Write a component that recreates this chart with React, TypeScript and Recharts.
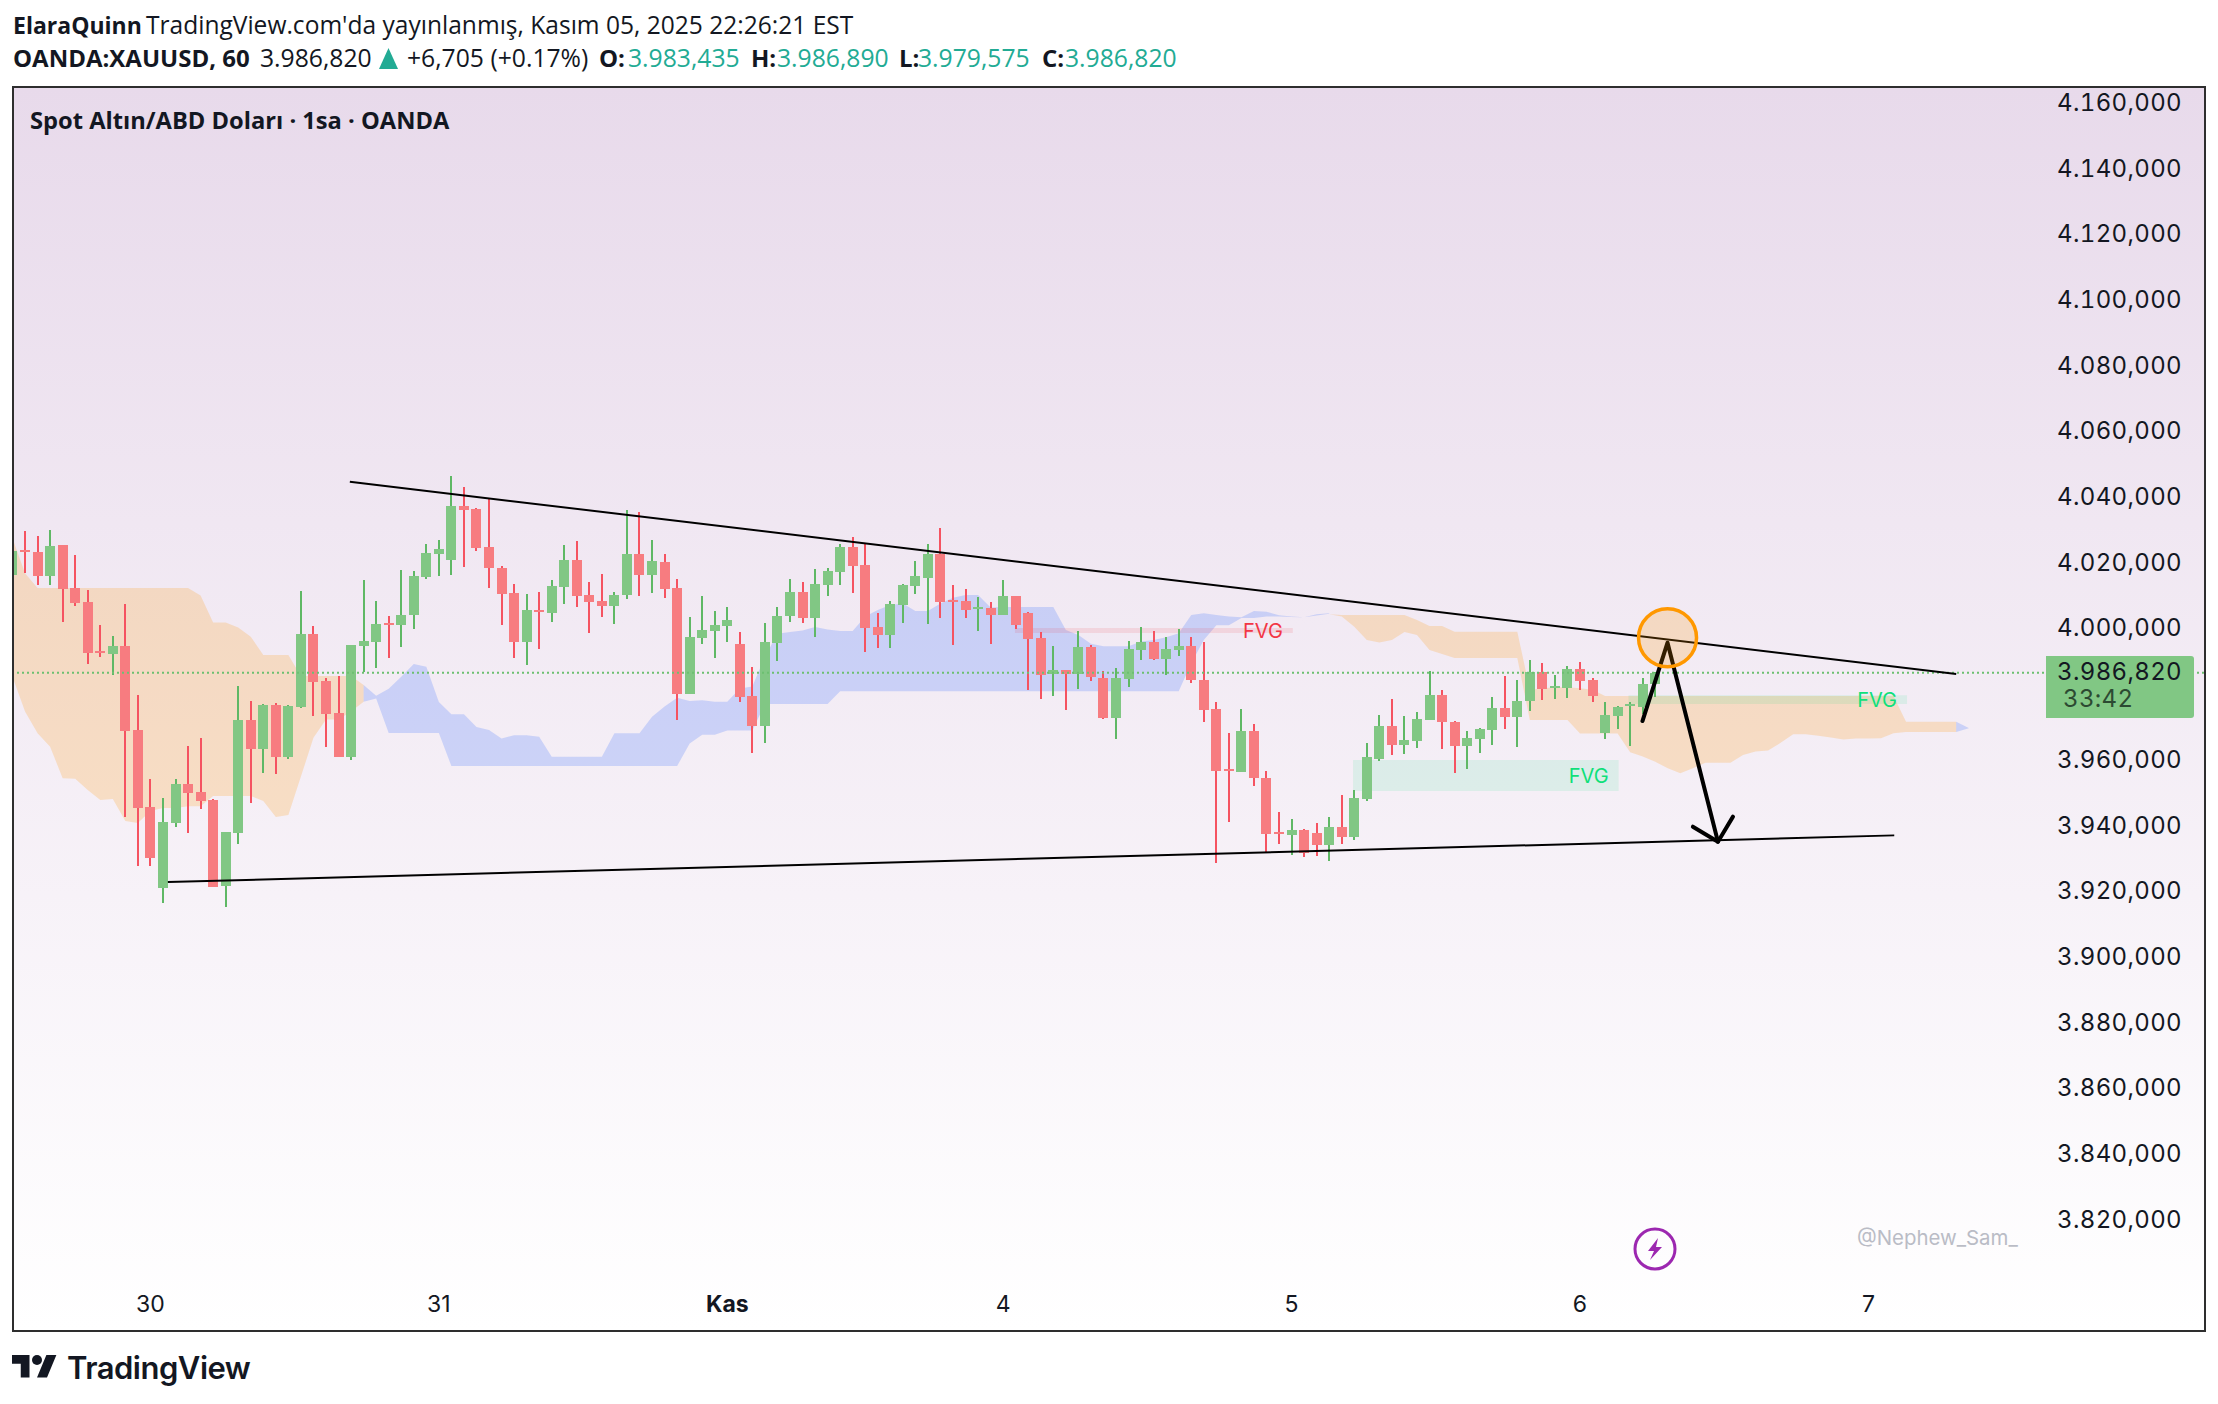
import {
  Area,
  Bar,
  ComposedChart,
  Line,
  ReferenceArea,
  ReferenceDot,
  ReferenceLine,
  XAxis,
  YAxis,
} from "recharts"

// hourly candles, left to right
const opens = [
  4016.5, 4024.2, 4023.6, 4016.3, 4025.7, 4012.6, 4008.3, 3993.4, 3992.5, 3994.9,
  3969.4, 3945.9, 3921.3, 3941.1, 3952.9, 3950.5, 3948.1, 3921.9, 3938.0, 3972.4,
  3963.6, 3977.0, 3961.1, 3976.4, 3998.6, 3984.3, 3974.5, 3961.1, 3994.9, 3996.2,
  4001.9, 4001.3, 4004.4, 4015.9, 4023.0, 4021.1, 4037.6, 4036.6, 4025.1, 4018.7,
  4011.1, 3996.2, 4005.9, 4005.0, 4012.9, 4021.1, 4010.5, 4008.6, 4007.1, 4010.5,
  4023.0, 4016.6, 4020.5, 4012.6, 3980.3, 3997.4, 3999.5, 4001.0, 3995.6, 3979.7,
  3970.6, 3995.9, 4004.1, 4011.4, 4003.5, 4013.5, 4017.5, 4025.1, 4019.6, 4000.7,
  3998.3, 4007.4, 4013.2, 4015.6, 4023.0, 4009.0, 4008.6, 4006.2, 4006.5, 4004.4,
  4010.2, 4005.0, 3997.4, 3986.4, 3987.6, 3986.4, 3994.6, 3985.2, 3973.0, 3984.9,
  3993.7, 3996.2, 3991.0, 3993.7, 3994.9, 3984.6, 3975.8, 3957.5, 3956.6, 3969.1,
  3954.8, 3938.3, 3937.4, 3938.9, 3938.0, 3934.4, 3939.8, 3936.8, 3948.4, 3960.6,
  3970.6, 3964.8, 3966.0, 3972.4, 3980.0, 3971.8, 3964.5, 3966.6, 3969.4, 3976.1,
  3973.3, 3978.2, 3987.0, 3982.2, 3982.2, 3987.9, 3984.6, 3968.5, 3973.6, 3976.6,
  3976.4, 3983.435,
]
const closes = [
  4023.9, 4023.7, 4016.3, 4025.4, 4012.3, 4008.0, 3992.8, 3992.8, 3994.9, 3969.1,
  3945.6, 3930.4, 3941.4, 3952.9, 3950.2, 3947.8, 3921.6, 3938.3, 3972.4, 3963.6,
  3977.0, 3961.1, 3976.7, 3998.6, 3984.0, 3974.2, 3961.1, 3995.2, 3996.5, 4001.6,
  4001.3, 4004.4, 4016.3, 4023.3, 4024.5, 4037.6, 4036.3, 4024.8, 4018.7, 4010.8,
  3996.2, 4005.9, 4005.3, 4013.2, 4021.1, 4010.2, 4008.4, 4007.1, 4010.5, 4023.0,
  4016.6, 4020.8, 4012.3, 3980.3, 3997.7, 3999.8, 4001.3, 4002.9, 3979.4, 3970.6,
  3996.2, 4004.1, 4011.4, 4003.5, 4013.8, 4017.8, 4025.1, 4019.3, 4000.4, 3998.3,
  4007.7, 4013.5, 4016.3, 4023.0, 4008.4, 4008.4, 4005.9, 4006.8, 4004.4, 4010.2,
  4001.3, 3997.1, 3986.1, 3987.6, 3986.4, 3994.6, 3985.5, 3973.0, 3985.2, 3994.0,
  3996.2, 3991.0, 3994.0, 3994.9, 3984.6, 3975.5, 3956.9, 3956.9, 3969.1, 3954.8,
  3937.7, 3937.7, 3938.9, 3931.9, 3934.4, 3939.8, 3936.8, 3948.7, 3961.2, 3970.6,
  3964.8, 3966.3, 3972.7, 3980.0, 3971.8, 3964.5, 3966.9, 3969.7, 3976.1, 3973.3,
  3978.2, 3987.0, 3981.9, 3982.8, 3987.9, 3984.3, 3979.7, 3973.9, 3976.4, 3977.2,
  3983.4, 3986.82,
]
const highs = [
  4025.2, 4030.0, 4028.4, 4030.3, 4025.7, 4022.6, 4012.0, 4001.3, 3998.0, 4007.7,
  3980.0, 3954.4, 3948.7, 3954.4, 3964.5, 3966.9, 3948.4, 3938.3, 3982.8, 3978.2,
  3977.3, 3977.6, 3977.0, 4011.7, 4001.0, 3985.2, 3985.8, 3995.2, 4015.0, 4008.6,
  4004.1, 4018.1, 4017.8, 4026.0, 4027.2, 4046.7, 4043.3, 4036.9, 4039.7, 4019.3,
  4013.8, 4010.8, 4011.4, 4015.0, 4025.7, 4026.9, 4014.4, 4016.9, 4011.4, 4036.4,
  4035.7, 4027.2, 4023.0, 4015.4, 4003.8, 4010.2, 4005.6, 4006.8, 3999.2, 3988.6,
  4001.9, 4006.8, 4015.4, 4014.4, 4018.4, 4018.7, 4026.0, 4028.1, 4026.0, 4005.0,
  4008.6, 4013.8, 4020.8, 4026.0, 4030.9, 4013.5, 4012.3, 4009.9, 4008.3, 4015.0,
  4010.2, 4005.3, 3999.2, 3994.9, 3987.6, 3999.5, 3995.2, 3987.3, 3988.2, 3996.5,
  4000.7, 3999.5, 3997.7, 4000.1, 3997.7, 3996.2, 3977.9, 3968.5, 3975.8, 3971.2,
  3956.9, 3944.4, 3942.3, 3939.2, 3941.1, 3942.9, 3949.6, 3951.1, 3965.4, 3973.9,
  3978.8, 3973.6, 3974.9, 3987.3, 3981.6, 3972.1, 3969.1, 3970.0, 3979.4, 3985.8,
  3984.6, 3990.7, 3989.8, 3986.1, 3988.9, 3990.1, 3985.2, 3977.9, 3976.6, 3977.9,
  3985.2, 3986.89,
]
const lows = [
  4016.0, 4017.2, 4013.5, 4013.5, 4002.2, 4007.1, 3989.5, 3991.6, 3986.1, 3942.9,
  3928.0, 3928.0, 3916.7, 3939.8, 3938.0, 3945.3, 3921.6, 3915.5, 3934.7, 3947.2,
  3956.3, 3956.0, 3960.5, 3976.1, 3973.6, 3964.2, 3961.1, 3960.2, 3987.0, 3988.2,
  3991.3, 3994.6, 4000.1, 4015.3, 4016.3, 4016.5, 4019.0, 4023.9, 4012.6, 4001.3,
  3991.3, 3989.2, 3994.0, 4002.2, 4007.7, 4006.8, 3998.9, 4003.8, 4001.6, 4009.3,
  4010.2, 4011.1, 4009.6, 3972.4, 3980.3, 3995.6, 3991.3, 3996.2, 3977.9, 3962.4,
  3965.4, 3990.4, 4002.3, 4001.9, 3997.7, 4010.2, 4013.5, 4011.1, 3993.1, 3994.3,
  3994.3, 4001.9, 4010.8, 4001.6, 4003.5, 3995.3, 4003.5, 3999.5, 3995.6, 4004.4,
  4000.1, 3981.6, 3978.8, 3979.7, 3975.5, 3981.9, 3984.3, 3972.7, 3966.6, 3982.5,
  3990.7, 3990.7, 3986.1, 3991.9, 3983.7, 3971.8, 3928.9, 3941.4, 3956.6, 3952.3,
  3932.2, 3934.7, 3931.3, 3930.7, 3931.0, 3929.5, 3934.7, 3935.9, 3947.8, 3960.0,
  3961.8, 3962.1, 3963.9, 3972.4, 3963.6, 3956.3, 3957.5, 3962.4, 3964.8, 3969.7,
  3964.2, 3975.2, 3978.5, 3978.8, 3979.1, 3981.6, 3977.9, 3966.6, 3969.7, 3964.5,
  3974.3, 3979.575,
]

// ichimoku cloud, first orange stretch starts at bar 0
const orangeATop = [
  4027.7, 4017.1, 4012.6, 4012.6, 4012.6, 4012.6, 4012.6, 4012.6, 4012.6, 4012.6,
  4012.6, 4012.6, 4012.6, 4012.6, 4012.6, 4010.3, 4002.1, 4002.1, 4000.6, 3997.8,
  3992.2, 3992.2, 3992.2, 3985.8, 3985.8, 3985.8, 3985.8, 3985.8, 3983.1,
]
const orangeABottom = [
  3985.6, 3975.0, 3968.4, 3964.3, 3954.7, 3954.5, 3951.1, 3948.1, 3948.4, 3941.7,
  3941.1, 3944.7, 3945.6, 3945.6, 3946.2, 3946.2, 3949.3, 3949.3, 3949.3, 3949.3,
  3947.8, 3942.9, 3943.5, 3955.2, 3967.0, 3972.6, 3972.6, 3975.0, 3978.0,
]
// blue stretch starts at bar 28
const blueTop = [
  3983.1, 3979.8, 3981.9, 3985.6, 3989.5, 3988.6, 3977.9, 3974.2, 3974.2, 3970.3,
  3969.4, 3966.8, 3967.8, 3967.8, 3967.3, 3961.2, 3961.2, 3961.2, 3961.2, 3961.2,
  3968.4, 3968.4, 3968.4, 3973.4, 3976.5, 3979.2, 3978.2, 3978.4, 3978.0, 3978.0,
  3982.0, 3982.6, 3991.7, 3998.7, 3999.2, 3999.7, 4000.7, 4000.0, 3999.5, 3999.5,
  4003.9, 4005.9, 4007.4, 4007.9, 4005.6, 4005.6, 4007.9, 4009.6, 4010.5, 4010.5,
  4006.7, 4006.8, 4006.8, 4006.8, 4006.8, 4006.8, 3999.8, 3998.3, 3995.6, 3994.9,
  3994.9, 3994.9, 3996.3, 3996.8, 3997.6, 3998.8, 4004.4, 4004.9, 4004.4, 4003.9,
  4003.7, 4005.6, 4005.4, 4004.3, 4003.9, 4003.7, 4004.6, 4004.9,
]
const blueBottom = [
  3978.0, 3979.0, 3968.5, 3968.5, 3968.5, 3968.5, 3968.5, 3958.4, 3958.4, 3958.4,
  3958.4, 3958.4, 3958.4, 3958.4, 3958.4, 3958.4, 3958.4, 3958.4, 3958.4, 3958.4,
  3958.4, 3958.4, 3958.4, 3958.4, 3958.4, 3958.4, 3965.3, 3967.9, 3967.9, 3969.2,
  3969.2, 3969.2, 3977.3, 3977.3, 3977.3, 3977.3, 3977.3, 3977.3, 3981.2, 3981.2,
  3981.2, 3981.2, 3981.2, 3981.2, 3981.2, 3981.2, 3981.2, 3981.2, 3981.2, 3981.2,
  3981.2, 3981.2, 3981.2, 3981.2, 3981.2, 3981.2, 3981.2, 3981.2, 3981.2, 3981.2,
  3981.2, 3981.2, 3981.2, 3981.2, 3981.2, 3981.2, 3989.7, 3996.8, 4001.3, 4001.3,
  4003.5, 4003.5, 4003.9, 4003.9, 4003.8, 4003.7, 4004.2, 4004.8,
]
// second orange stretch starts at bar 105
const orangeBTop = [
  4004.6, 4004.4, 4004.4, 4004.4, 4004.4, 4004.4, 4004.4, 4002.9, 4001.0, 4001.0,
  3999.3, 3999.3, 3999.3, 3999.3, 3999.3, 3999.3, 3981.6, 3982.1, 3982.4, 3982.4,
  3982.1, 3981.6, 3979.7, 3979.7, 3979.7, 3979.7, 3979.7, 3979.7, 3979.7, 3979.7,
  3979.7, 3979.7, 3979.7, 3979.7, 3979.7, 3979.7, 3979.7, 3979.7, 3979.7, 3979.7,
  3979.7, 3979.7, 3979.7, 3979.7, 3979.7, 3979.7, 3971.9, 3971.9, 3971.9, 3971.9,
  3971.9,
]
const orangeBBottom = [
  4004.6, 4003.9, 4000.8, 3996.8, 3996.0, 3996.8, 3999.2, 3998.3, 3993.7, 3992.5,
  3991.3, 3991.3, 3991.3, 3991.3, 3991.3, 3991.3, 3972.4, 3972.4, 3972.4, 3972.4,
  3968.3, 3968.3, 3968.3, 3968.3, 3962.6, 3961.3, 3959.7, 3957.7, 3956.2, 3957.7,
  3959.4, 3959.4, 3959.4, 3961.8, 3962.8, 3963.1, 3965.5, 3968.1, 3968.1, 3967.6,
  3967.1, 3966.5, 3966.8, 3966.8, 3966.9, 3968.4, 3968.8, 3968.8, 3968.8, 3968.8,
  3968.8,
]
const blueTailTop = [3971.9, 3970.0]
const blueTailBottom = [3968.8, 3969.9]

// 3.980 has no label in the reference, the price tag covers its slot
const priceTicks = [
  3820, 3840, 3860, 3880, 3900, 3920, 3940, 3960,
  4000, 4020, 4040, 4060, 4080, 4100, 4120, 4140, 4160,
]
const timeTicks = [11, 34, 57, 79, 102, 125, 148]
const timeLabels = ["30", "31", "Kas", "4", "5", "6", "7"]

const lastPrice = 3986.82

// drawings on the chart, bar index and price
const upperTrend = [
  { i: 26.9, p: 4044.96 },
  { i: 155, p: 3986.42 },
]
const lowerTrend = [
  { i: 12.39, p: 3923.1 },
  { i: 150.06, p: 3937.3 },
]
const arrowPath = [
  { i: 129.98, p: 3972.1 },
  { i: 131.98, p: 3995.95 },
  { i: 136, p: 3935.37 },
]
const arrowHead = [
  { i: 134, p: 3939.94 },
  { i: 136, p: 3935.37 },
  { i: 137.2, p: 3943.0 },
]

const candles = opens.map((open, i) => ({
  i,
  open,
  close: closes[i],
  high: highs[i],
  low: lows[i],
}))

function cloudRows(start: number, top: number[], bottom: number[]) {
  return top.map((t, k) => ({ i: start + k, range: [bottom[k], t] }))
}

const FONT = "Inter, sans-serif"
const HEAD_FONT = "'Open Sans', sans-serif"
const UP = "#22ab94"

function Candle(props: any) {
  const { x, y, width, height, payload } = props
  const { open, close, high, low } = payload
  const k = height / (high - low)
  const up = close >= open
  const bodyTop = y + (high - Math.max(open, close)) * k
  const bodyH = Math.max(Math.abs(open - close) * k, 2)
  const cx = Math.round(x + width / 2)
  return (
    <g shapeRendering="crispEdges">
      <rect x={cx - 1} y={y} width={2} height={height} fill={up ? "#5fb865" : "#f55361"} />
      <rect
        x={cx - 5}
        y={bodyTop}
        width={10}
        height={bodyH}
        fill={up ? "#81c784" : "#f77c80"}
      />
    </g>
  )
}

function PriceTick({ y, payload }: any) {
  const v = payload.value
  const whole = Math.floor(v / 1000)
  const rest = String(Math.round(v - whole * 1000)).padStart(3, "0")
  return (
    <text
      x={2168}
      y={y - 1.5}
      textAnchor="end"
      dominantBaseline="central"
      fontFamily={FONT}
      fontSize={24}
      letterSpacing={0.35}
      style={{ fontVariantNumeric: "tabular-nums" }}
      fill="#131722"
    >
      {`${whole}.${rest},000`}
    </text>
  )
}

function TimeTick({ x, payload }: any) {
  const label = timeLabels[timeTicks.indexOf(payload.value)]
  return (
    <text
      x={x}
      y={1216}
      textAnchor="middle"
      dominantBaseline="central"
      fontFamily={FONT}
      fontSize={23}
      fontWeight={label === "Kas" ? 700 : 400}
      fill="#131722"
    >
      {label}
    </text>
  )
}

function Head({
  left,
  top,
  color = "#131722",
  bold,
  size,
  children,
}: {
  left: number
  top: number
  color?: string
  bold?: boolean
  size?: number
  children: React.ReactNode
}) {
  return (
    <span
      style={{
        position: "absolute",
        left,
        top,
        color,
        fontFamily: HEAD_FONT,
        fontWeight: bold ? 700 : 400,
        fontSize: size ?? (bold ? 24 : 24.7),
        lineHeight: "30px",
        whiteSpace: "nowrap",
      }}
    >
      {children}
    </span>
  )
}

export default function App() {
  return (
    <div
      style={{
        position: "absolute",
        left: 0,
        top: 0,
        width: 2218,
        height: 1404,
        background: "#fff",
        overflow: "hidden",
      }}
    >
      <Head left={13} top={10} bold size={23}>ElaraQuinn</Head>
      <Head left={146} top={10} size={24.55}>TradingView.com'da yayınlanmış, Kasım 05, 2025 22:26:21 EST</Head>
      <Head left={13} top={43} bold>OANDA:XAUUSD, 60</Head>
      <Head left={260} top={43}>3.986,820</Head>
      <svg style={{ position: "absolute", left: 379, top: 48 }} width={19} height={21}>
        <polygon points="9.5,0 19,21 0,21" fill={UP} />
      </svg>
      <Head left={407} top={43}>+6,705 (+0.17%)</Head>
      <Head left={599} top={43} bold>O:</Head>
      <Head left={628} top={43} color={UP}>3.983,435</Head>
      <Head left={751} top={43} bold>H:</Head>
      <Head left={777} top={43} color={UP}>3.986,890</Head>
      <Head left={899} top={43} bold>L:</Head>
      <Head left={918} top={43} color={UP}>3.979,575</Head>
      <Head left={1042} top={43} bold>C:</Head>
      <Head left={1065} top={43} color={UP}>3.986,820</Head>

      <div
        style={{
          position: "absolute",
          left: 12,
          top: 86,
          width: 2194,
          height: 1246,
          boxSizing: "border-box",
          border: "2px solid #2e2e2e",
          background: "linear-gradient(180deg, #e8daeb 0%, #ffffff 100%)",
        }}
      />
      <div style={{ position: "absolute", left: 14, top: 88 }}>
        <ComposedChart
          width={2190}
          height={1242}
          data={candles}
          margin={{ top: 0, right: 0, bottom: 0, left: 0 }}
        >
          <XAxis
            dataKey="i"
            type="number"
            domain={[0.12, 174.76]}
            allowDataOverflow
            ticks={timeTicks}
            interval={0}
            mirror
            height={1}
            tickSize={0}
            axisLine={false}
            tickLine={false}
            tick={<TimeTick />}
          />
          <YAxis
            type="number"
            orientation="right"
            domain={[3786.73, 4164.81]}
            allowDataOverflow
            ticks={priceTicks}
            interval={0}
            mirror
            width={1}
            tickSize={0}
            axisLine={false}
            tickLine={false}
            tick={<PriceTick />}
          />
          <Area
            data={cloudRows(0, orangeATop, orangeABottom)}
            dataKey="range"
            type="linear"
            stroke="none"
            fill="rgb(255,152,0)"
            fillOpacity={0.2}
            dot={false}
            activeDot={false}
            isAnimationActive={false}
          />
          <Area
            data={cloudRows(28, blueTop, blueBottom)}
            dataKey="range"
            type="linear"
            stroke="none"
            fill="rgb(41,98,255)"
            fillOpacity={0.2}
            dot={false}
            activeDot={false}
            isAnimationActive={false}
          />
          <Area
            data={cloudRows(105, orangeBTop, orangeBBottom)}
            dataKey="range"
            type="linear"
            stroke="none"
            fill="rgb(255,152,0)"
            fillOpacity={0.2}
            dot={false}
            activeDot={false}
            isAnimationActive={false}
          />
          <Area
            data={cloudRows(155, blueTailTop, blueTailBottom)}
            dataKey="range"
            type="linear"
            stroke="none"
            fill="rgb(41,98,255)"
            fillOpacity={0.2}
            dot={false}
            activeDot={false}
            isAnimationActive={false}
          />
          <ReferenceArea
            x1={79.94}
            x2={102.1}
            y1={3998.9}
            y2={4000.43}
            fill="#f23645"
            fillOpacity={0.12}
            stroke="none"
            label={{
              value: "FVG",
              position: "insideRight",
              offset: 10,
              fill: "#f23645",
              fontSize: 20,
              fontFamily: FONT,
            }}
          />
          <ReferenceArea
            x1={106.9}
            x2={128.08}
            y1={3950.81}
            y2={3960.24}
            fill="rgb(0,230,118)"
            fillOpacity={0.1}
            stroke="none"
            label={{
              value: "FVG",
              position: "insideRight",
              offset: 10,
              fill: "#0fe07a",
              fontSize: 20,
              fontFamily: FONT,
            }}
          />
          <ReferenceArea
            x1={128.87}
            x2={151.08}
            y1={3977.29}
            y2={3979.94}
            fill="rgb(0,230,118)"
            fillOpacity={0.1}
            stroke="none"
            label={{
              value: "FVG",
              position: "insideRight",
              offset: 10,
              fill: "#0fe07a",
              fontSize: 20,
              fontFamily: FONT,
            }}
          />
          <Bar
            dataKey={(d: any) => [d.low, d.high]}
            barSize={10}
            shape={<Candle />}
            isAnimationActive={false}
          />
          <ReferenceLine
            y={lastPrice}
            stroke="#6cc070"
            strokeWidth={2}
            strokeDasharray="2 3"
          />
          <Line data={upperTrend} dataKey="p" type="linear" stroke="#000" strokeWidth={2} dot={false} activeDot={false} isAnimationActive={false} />
          <Line data={lowerTrend} dataKey="p" type="linear" stroke="#000" strokeWidth={2} dot={false} activeDot={false} isAnimationActive={false} />
          <Line data={arrowPath} dataKey="p" type="linear" stroke="#000" strokeWidth={4} strokeLinecap="round" strokeLinejoin="round" dot={false} activeDot={false} isAnimationActive={false} />
          <Line data={arrowHead} dataKey="p" type="linear" stroke="#000" strokeWidth={4} strokeLinecap="round" strokeLinejoin="round" dot={false} activeDot={false} isAnimationActive={false} />
          <ReferenceDot
            x={131.98}
            y={3997.47}
            r={29}
            fill="rgb(255,152,0)"
            fillOpacity={0.2}
            stroke="#ff9800"
            strokeWidth={3.5}
          />
        </ComposedChart>
      </div>

      <div
        style={{
          position: "absolute",
          left: 30,
          top: 105,
          fontFamily: HEAD_FONT,
          fontWeight: 700,
          fontSize: 23.7,
          lineHeight: "30px",
          color: "#131722",
          whiteSpace: "nowrap",
        }}
      >
        Spot Altın/ABD Doları · 1sa · OANDA
      </div>

      {/* last price tag */}
      <div
        style={{
          position: "absolute",
          left: 2046,
          top: 656,
          width: 148,
          height: 62,
          background: "#81c784",
          borderRadius: "0 3px 3px 0",
          fontFamily: FONT,
          fontSize: 24,
          lineHeight: "26px",
          letterSpacing: 0.35,
          fontVariantNumeric: "tabular-nums",
          color: "#131722",
        }}
      >
        <div style={{ position: "absolute", right: 12, top: 3 }}>3.986,820</div>
        <div style={{ position: "absolute", left: 17, top: 30, color: "#2c4a32" }}>33:42</div>
      </div>

      <div
        style={{
          position: "absolute",
          left: 1857,
          top: 1226,
          fontFamily: FONT,
          fontSize: 20.4,
          lineHeight: "24px",
          color: "#babcc6",
        }}
      >
        @Nephew_Sam_
      </div>

      <svg style={{ position: "absolute", left: 1633, top: 1227 }} width={44} height={44} viewBox="0 0 44 44">
        <circle cx={22} cy={22} r={20} fill="none" stroke="#9c27b0" strokeWidth={3} />
        <path d="M25 11 L15 24 L21 24 L17 33 L29 20 L23 20 Z" fill="#9c27b0" />
      </svg>

      <svg style={{ position: "absolute", left: 12, top: 1355 }} width={45} height={28} viewBox="0 0 36 22.4">
        <path d="M14 18H7V7H0V0h14v18zM28 18h-8l7.5-18h8L28 18z" fill="#131722" />
        <circle cx={20} cy={4} r={4} fill="#131722" />
      </svg>
      <div
        style={{
          position: "absolute",
          left: 67,
          top: 1349,
          fontFamily: FONT,
          fontWeight: 600,
          fontSize: 31,
          lineHeight: "38px",
          letterSpacing: -0.5,
          color: "#131722",
        }}
      >
        TradingView
      </div>
    </div>
  )
}
